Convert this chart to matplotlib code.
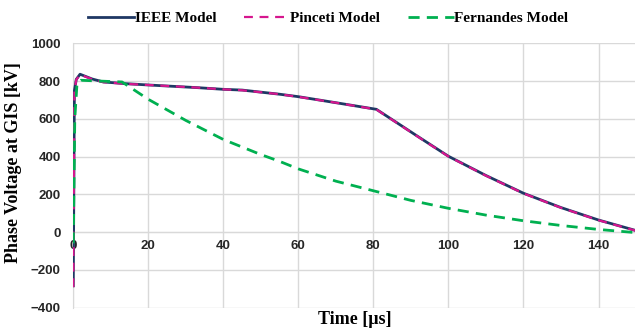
import matplotlib.pyplot as plt
import numpy as np

# values (time in us, voltage in kV)
t_ieee = [0, 0.3, 0.8, 1.8, 5, 8, 14, 20, 33, 40, 45, 55, 60, 70, 80.8,
          92, 100, 110, 120, 130, 140, 150]
v_ieee = [-285, 750, 810, 837, 812, 796, 787, 780, 766, 757, 753, 731, 718, 686, 651,
          505, 402, 300, 206, 130, 64, 8]
v_pinceti = [-292, 745, 808, 835, 811, 795, 786, 780, 766, 757, 752, 731, 717, 686, 650,
             504, 401, 299, 205, 129, 63, 7]

t_fern = [0, 0.4, 1, 2, 8, 13, 20, 30, 40, 50, 55, 60, 70, 80.8, 90, 100, 110, 120, 130,
          140, 150]
v_fern = [-60, 600, 790, 805, 800, 796, 704, 592, 491, 411, 375, 335, 270, 215, 168, 126,
          90, 60, 35, 14, -3]

SANS = "Liberation Sans"
SERIF = "Liberation Serif"

fig = plt.figure(figsize=(6.35, 3.29), dpi=100)
ax = fig.add_axes([0.1154, 0.0653, 0.8862, 0.8025])

ax.plot(t_ieee, v_ieee, color="#1F3864", lw=2.0, label="IEEE Model", zorder=3)
ax.plot(t_ieee, v_pinceti, color="#D6168E", lw=1.6, ls=(0, (4, 3)), label="Pinceti Model", zorder=4)
ax.plot(t_fern, v_fern, color="#00B050", lw=2.0, ls=(0, (4, 2.6)), label="Fernandes Model", zorder=5)

ax.set_xlim(0, 150)
ax.set_ylim(-400, 1000)
ax.set_xticks(np.arange(0, 141, 20))
ax.set_yticks(np.arange(-400, 1001, 200))
ax.grid(True, color="#D9D9D9", lw=1.0)
ax.set_axisbelow(True)

for side in ["top", "right"]:
    ax.spines[side].set_visible(False)
ax.spines["bottom"].set_position(("data", 0))
ax.spines["bottom"].set_color("#D9D9D9")
ax.spines["left"].set_color("#D9D9D9")
ax.tick_params(length=0, labelsize=9.5, colors="#262626")
ax.tick_params(axis="x", pad=6)
ax.tick_params(axis="y", pad=9)
for lab in ax.get_xticklabels() + ax.get_yticklabels():
    lab.set_family(SANS)
    lab.set_fontweight("bold")

fig.text(0.022, 0.505, "Phase Voltage at GIS [kV]", rotation=90, ha="center", va="center",
         family=SERIF, fontweight="bold", fontsize=13)
fig.text(0.559, 0.03, "Time [\u00b5s]", ha="center", va="center",
         family=SERIF, fontweight="bold", fontsize=13)

ax.legend(loc="center", bbox_to_anchor=(0.517, 0.945), bbox_transform=fig.transFigure,
          ncol=3, frameon=False, handlelength=3.0, handletextpad=0.05, columnspacing=1.8,
          prop={"family": SERIF, "weight": "bold", "size": 11})

fig.savefig("out.png", dpi=100)
